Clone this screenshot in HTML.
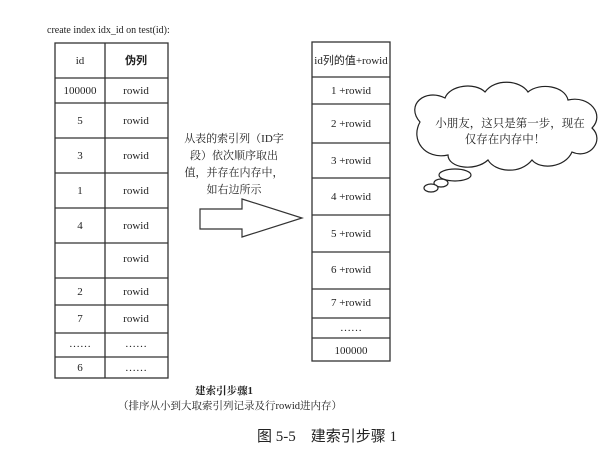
<!DOCTYPE html>
<html><head><meta charset="utf-8"><style>
html,body{margin:0;padding:0;background:#fff;}
svg{display:block;}
text{font-family:"Liberation Serif","Noto Serif CJK SC",serif;fill:#222;}
.c{font-family:"Liberation Serif","Noto Sans CJK SC",serif;}
</style></head><body>
<svg width="606" height="450" viewBox="0 0 606 450" xmlns="http://www.w3.org/2000/svg">
<text x="47" y="33" font-size="10">create index idx_id on test(id):</text>
<g stroke="#333" stroke-width="1.3" fill="none">
<rect x="55" y="43" width="113" height="335"/>
<line x1="105" y1="43" x2="105" y2="378"/>
<line x1="55" y1="78" x2="168" y2="78"/>
<line x1="55" y1="103" x2="168" y2="103"/>
<line x1="55" y1="138" x2="168" y2="138"/>
<line x1="55" y1="173" x2="168" y2="173"/>
<line x1="55" y1="208" x2="168" y2="208"/>
<line x1="55" y1="243" x2="168" y2="243"/>
<line x1="55" y1="278" x2="168" y2="278"/>
<line x1="55" y1="305" x2="168" y2="305"/>
<line x1="55" y1="333" x2="168" y2="333"/>
<line x1="55" y1="357" x2="168" y2="357"/>
</g>
<g font-size="11" text-anchor="middle">
<text x="80" y="64">id</text><text x="136" y="64" class="c" font-weight="bold">伪列</text>
<text x="80" y="94">100000</text><text x="136" y="94">rowid</text>
<text x="80" y="124">5</text><text x="136" y="124">rowid</text>
<text x="80" y="159">3</text><text x="136" y="159">rowid</text>
<text x="80" y="194">1</text><text x="136" y="194">rowid</text>
<text x="80" y="229">4</text><text x="136" y="229">rowid</text>
<text x="136" y="262">rowid</text>
<text x="80" y="295">2</text><text x="136" y="295">rowid</text>
<text x="80" y="322">7</text><text x="136" y="322">rowid</text>
<text x="80" y="347">……</text><text x="136" y="347">……</text>
<text x="80" y="371">6</text><text x="136" y="371">……</text>
</g>
<g font-size="11" text-anchor="middle" class="c">
<text x="234" y="142">从表的索引列（ID字</text>
<text x="234" y="159">段）依次顺序取出</text>
<text x="234" y="176">值，并存在内存中，</text>
<text x="234" y="193">如右边所示</text>
</g>
<polygon points="200,209 242,209 242,199 302,218 242,237 242,229 200,229" fill="#fff" stroke="#333" stroke-width="1.2"/>
<g stroke="#333" stroke-width="1.3" fill="none">
<rect x="312" y="42" width="78" height="319"/>
<line x1="312" y1="77" x2="390" y2="77"/>
<line x1="312" y1="104" x2="390" y2="104"/>
<line x1="312" y1="143" x2="390" y2="143"/>
<line x1="312" y1="178" x2="390" y2="178"/>
<line x1="312" y1="215" x2="390" y2="215"/>
<line x1="312" y1="252" x2="390" y2="252"/>
<line x1="312" y1="289" x2="390" y2="289"/>
<line x1="312" y1="318" x2="390" y2="318"/>
<line x1="312" y1="338" x2="390" y2="338"/>
</g>
<g font-size="11" text-anchor="middle">
<text x="351" y="64" class="c">id列的值+rowid</text>
<text x="351" y="94">1 +rowid</text>
<text x="351" y="127">2 +rowid</text>
<text x="351" y="164">3 +rowid</text>
<text x="351" y="200">4 +rowid</text>
<text x="351" y="237">5 +rowid</text>
<text x="351" y="273">6 +rowid</text>
<text x="351" y="306">7 +rowid</text>
<text x="351" y="331">……</text>
<text x="351" y="354">100000</text>
</g>
<g stroke="#222" stroke-width="1.2" fill="#fff">
<path d="M420,122 C405,105 425,88 445,98 C450,85 475,82 485,92 C495,78 520,80 528,92 C540,82 565,86 568,100 C590,95 605,115 592,128 C605,140 590,160 572,152 C565,168 540,170 532,160 C520,175 495,172 488,160 C475,172 448,168 448,155 C425,160 410,140 420,122 Z"/>
<ellipse cx="455" cy="175" rx="16" ry="6"/>
<ellipse cx="441" cy="183" rx="7" ry="4"/>
<ellipse cx="431" cy="188" rx="7" ry="4"/>
</g>
<g font-size="11.5" text-anchor="middle" class="c">
<text x="510" y="127">小朋友，这只是第一步，现在</text>
<text x="505" y="143">仅存在内存中！</text>
</g>
<g font-size="10.5" text-anchor="middle" class="c">
<text x="224" y="394" font-weight="bold">建索引步骤1</text>
<text x="230" y="409">（排序从小到大取索引列记录及行rowid进内存）</text>
</g>
<text x="327" y="441" font-size="15" text-anchor="middle" class="c">图 5-5　建索引步骤 1</text>
</svg>
</body></html>
